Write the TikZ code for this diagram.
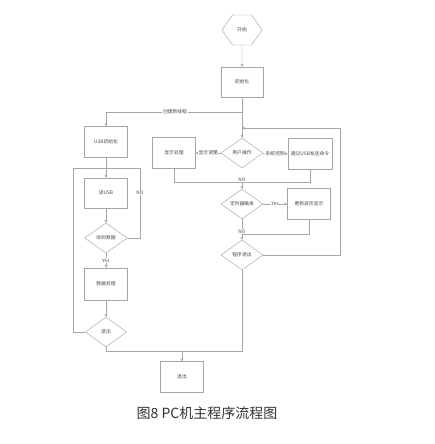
\documentclass[tikz,border=0pt]{standalone}
\usepackage{fontspec}
\setmainfont{Noto Sans CJK SC}
\usepackage{tikz}
\usetikzlibrary{
  arrows.meta,
  positioning,
  calc,
  shapes.geometric,
  shapes.symbols,
}
\definecolor{ink}{HTML}{4A4A4A}
\definecolor{wire}{HTML}{A6A6A6}
\definecolor{caption}{HTML}{333333}
\tikzset{
  >={Stealth[length=3pt,width=3pt]},
  font=\fontsize{4.8}{6}\selectfont,
  every node/.append style={text=ink},
  flow/.style={draw=wire, line width=0.45pt},
  procbox/.style={draw=wire, line width=0.45pt, minimum width=43pt, minimum height=31pt, inner sep=0pt},
  choice/.style={shape=diamond, draw=wire, line width=0.45pt, aspect=1.4, minimum width=42pt, minimum height=30pt, inner sep=0pt},
  terminal/.style={shape=signal, signal to=east and west, signal pointer angle=110, draw=wire, line width=0.45pt, minimum width=40pt, minimum height=30pt, inner sep=1pt},
  tag/.style={fill=white, inner sep=0.6pt},
}

\begin{document}
\begin{tikzpicture}[x=1pt,y=-1pt]
  \useasboundingbox[fill=white] (0,0) rectangle (434,444);

  % start
  \node[terminal] (start) at (242,30) {开始};
  \node[procbox, minimum width=42pt, minimum height=30pt] (init) at (242,82) {初始化};
  \draw[flow, ->] (start) -- (init);

  % right thread
  \node[choice] (user) at (242,153) {用户操作};
  \node[procbox] (disp) at (174,153) {显示处理};
  \node[procbox, minimum width=44pt] (usbcmd) at (310,154) {通过USB发送命令};
  \node[choice] (timer) at (242,204) {定时器触发};
  \node[procbox] (wave) at (309,204) {更新波形显示};
  \node[choice] (quit) at (242,255) {程序退出};

  \coordinate (fork) at (242,112);
  \coordinate (loopin) at (242,128);
  \coordinate (rtop) at (340,128);
  \coordinate (mjoin) at (242,182);
  \coordinate (tjoin) at (242,234);

  \draw[flow] (init) -- (fork);
  \draw[flow, ->] (fork) -- (user);
  \draw[flow, ->] (user) -- node[tag] {显示调整} (disp);
  \draw[flow, ->] (user) -- node[tag] {系统控制} (usbcmd);
  \draw[flow] (disp) |- (mjoin);
  \draw[flow] (usbcmd) |- (mjoin);
  \draw[flow, ->] (mjoin) -- (timer);
  \node[tag, above=0pt of mjoin] (no1) {NO};
  \draw[flow, ->] (timer) -- node[tag] {Yes} (wave);
  \draw[flow] (wave) |- (tjoin);
  \draw[flow, ->] (timer) -- (quit);
  \node[tag, above=0pt of tjoin] (no2) {NO};
  \draw[flow, ->] (quit) -| (rtop) -- (loopin);

  % left thread
  \node[tag] (thread) at (175,112) {创建新线程};
  \node[procbox] (usbinit) at (106,142) {USB初始化};
  \node[procbox, minimum height=30pt] (readusb) at (106,193) {读USB};
  \node[choice, minimum width=43pt] (got) at (106,238) {收到数据};
  \node[procbox, minimum height=32pt] (proc) at (106,284) {数据处理};
  \node[choice, minimum width=41pt] (leave) at (106,332) {退出};

  \coordinate (ljoin) at (106,168);
  \coordinate (lright) at (140,168);
  \coordinate (lleft) at (73,168);

  \draw[flow] (fork) -- (thread);
  \draw[flow, ->] (thread) -| (usbinit);
  \draw[flow, ->] (usbinit) -- (readusb);
  \draw[flow, ->] (readusb) -- (got);
  \draw[flow] (got) -| (lright) -- (ljoin);
  \node[tag] (no3) at (140,193) {NO};
  \draw[flow, ->] (got) -- node[tag] {Yes} (proc);
  \draw[flow, ->] (proc) -- (leave);
  \draw[flow] (leave) -| (lleft) -- (ljoin);

  % end
  \node[procbox] (finish) at (182,377) {退出};
  \coordinate (bjoin) at (182,351);
  \draw[flow] (leave) |- (bjoin);
  \draw[flow] (quit) |- (bjoin);
  \draw[flow, ->] (bjoin) -- (finish);

  \node[font=\fontsize{14}{16}\selectfont, text=caption] (title) at (207,413) {图8 PC机主程序流程图};
\end{tikzpicture}
\end{document}
